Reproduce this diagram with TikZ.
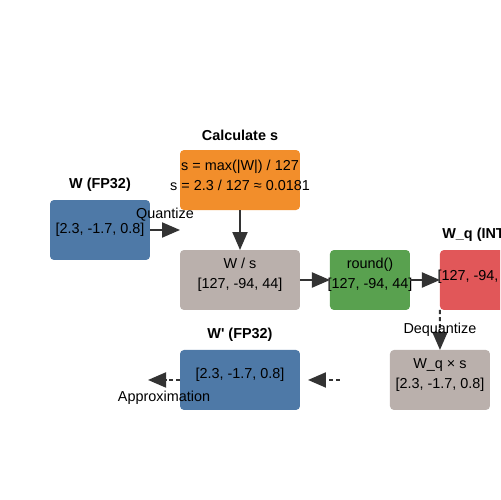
\documentclass[tikz,border=0pt]{standalone}
\usepackage{fontspec}
\setmainfont{Liberation Sans}
\usetikzlibrary{positioning, arrows.meta}
\definecolor{fpblue}{HTML}{4E79A7}
\definecolor{calcorange}{HTML}{F28E2B}
\definecolor{stepgrey}{HTML}{BAB0AC}
\definecolor{roundgreen}{HTML}{59A14F}
\definecolor{intred}{HTML}{E15759}
\definecolor{arrowgrey}{HTML}{333333}
\tikzset{StageBox/.style={%
    shape=rectangle,%
    rounded corners=0.08cm,%
    minimum width=2.4cm,%
    minimum height=1.2cm,%
    inner sep=0pt,%
    outer sep=0pt,%
}}
\tikzset{BoxText/.style={%
    align=center,%
    inner sep=0pt,%
}}
\tikzset{TitleText/.style={%
    inner sep=0pt,%
}}
\tikzset{EdgeLabel/.style={%
    inner sep=0pt,%
}}
\tikzset{SolidArrow/.style={%
    -{Triangle[length=0.36cm,width=0.3cm]},%
    draw=arrowgrey,%
    line width=1.15pt,%
}}
\tikzset{DashedArrow/.style={%
    SolidArrow,%
    dash pattern=on 2.3pt off 1.7pt,%
}}
\NewDocumentCommand{\stageTitle}{m}{%
    \textbf{#1}%
}

\begin{document}
\begin{tikzpicture}[x=0.02cm, y=0.02cm, font=\fontsize{8.2}{11.4}\selectfont]
    \path[use as bounding box] (0,0) rectangle (500,500);
    \clip (0,0) rectangle (500,500);

    \node[StageBox, fill=fpblue, minimum width=2cm] (w) at (100,270) {};
    \node[StageBox, fill=stepgrey] (ws) at (240,220) {};
    \node[StageBox, fill=calcorange, above=0.8cm of ws] (calc) {};
    \node[StageBox, fill=roundgreen, minimum width=1.6cm, right=0.6cm of ws] (rnd) {};
    \node[StageBox, fill=intred, minimum width=1.6cm, right=0.6cm of rnd] (wq) {};
    \node[StageBox, fill=fpblue, below=0.8cm of ws] (wp) {};
    \node[StageBox, fill=stepgrey, minimum width=2cm, right=1.8cm of wp] (wqs) {};

    \node[TitleText] (wTitle) at ([yshift=0.3cm]w.north) {\stageTitle{W (FP32)}};
    \node[TitleText] (calcTitle) at ([yshift=0.3cm]calc.north) {\stageTitle{Calculate s}};
    \node[TitleText] (wqTitle) at ([yshift=0.3cm]wq.north) {\stageTitle{W\_q (INT8)}};
    \node[TitleText] (wpTitle) at ([yshift=0.3cm]wp.north) {\stageTitle{W\textquotesingle{} (FP32)}};

    \node[BoxText] (wText) at (w.center) {[2.3, -1.7, 0.8]};
    \node[BoxText] (calcText) at ([yshift=0.1cm]calc.center) {s = max(|W|) / 127\\s = 2.3 / 127 ≈ 0.0181};
    \node[BoxText] (wsText) at ([yshift=0.1cm]ws.center) {W / s\\{}[127, -94, 44]};
    \node[BoxText] (rndText) at ([yshift=0.1cm]rnd.center) {round()\\{}[127, -94, 44]};
    \node[BoxText] (wqText) at ([yshift=0.06cm]wq.center) {[127, -94, 44]};
    \node[BoxText] (wqsText) at ([yshift=0.1cm]wqs.center) {W\_q × s\\{}[2.3, -1.7, 0.8]};
    \node[BoxText] (wpText) at ([yshift=0.1cm]wp.center) {[2.3, -1.7, 0.8]};

    \path (w.east) edge[SolidArrow] node[EdgeLabel, above=0.16cm] {Quantize} (w.east -| ws.west);
    \path (calc.south) edge[SolidArrow] (ws.north);
    \path (ws.east) edge[SolidArrow] (rnd.west);
    \path (rnd.east) edge[SolidArrow] (wq.west);
    \path (wq.south west) edge[DashedArrow] node[EdgeLabel] {Dequantize} (wqs.north);
    \path (wqs.west) edge[DashedArrow, shorten <=1cm, shorten >=0.16cm] (wp.east);
    \coordinate[left=0.64cm of wp.west] (approx);
    \path (wp.west) edge[DashedArrow] node[EdgeLabel, below=0.2cm] {Approximation} (approx);
\end{tikzpicture}
\end{document}
